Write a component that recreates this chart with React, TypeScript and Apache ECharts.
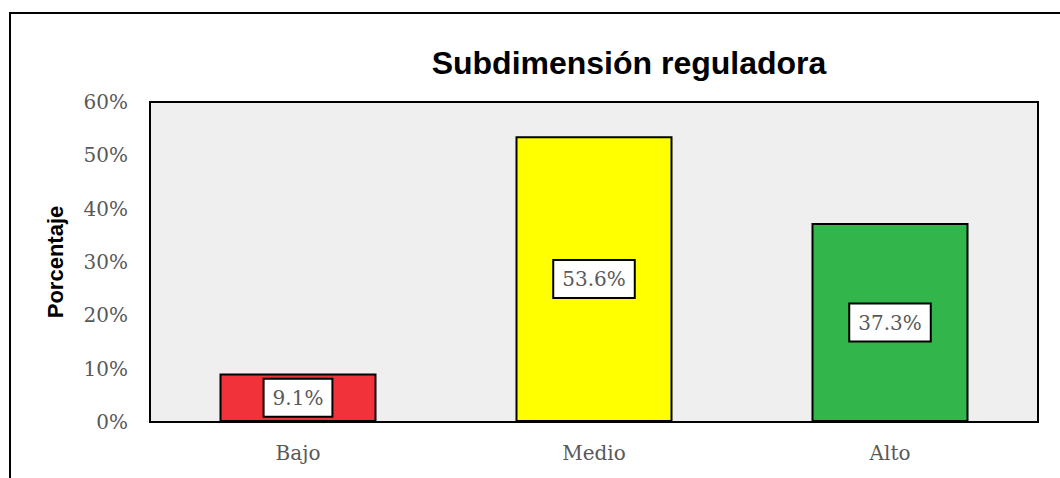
import React, { useEffect, useRef } from "react";
import * as echarts from "echarts";

const categories = ["Bajo", "Medio", "Alto"];
const values = [9.1, 53.6, 37.3];
const barColors = ["#F2323A", "#FFFF00", "#32B64B"];
const yTicks = [0, 10, 20, 30, 40, 50, 60];
const titleText = "Subdimensión reguladora";
const yAxisTitle = "Porcentaje";

export default function App() {
  const ref = useRef<HTMLDivElement>(null);
  useEffect(() => {
    document.body.style.margin = "0";
    const chart = echarts.init(ref.current!, null, { renderer: "svg" });
    const serif = "DejaVu Serif";
    chart.setOption({
      animation: false,
      backgroundColor: "#ffffff",
      title: {
        text: titleText,
        left: 624,
        top: 42,
        textAlign: "center",
        textStyle: { fontFamily: "Liberation Sans", fontWeight: "bold", fontSize: 32, color: "#000" },
      },
      graphic: [
        {
          type: "rect",
          shape: { x: 10, y: 13, width: 1100, height: 600 },
          style: { fill: "none", stroke: "#000", lineWidth: 2 },
          silent: true,
        },
      ],
      grid: {
        left: 150,
        top: 102,
        width: 888,
        height: 320,
        show: true,
        backgroundColor: "#EFEFEF",
        borderColor: "#000",
        borderWidth: 2,
        containLabel: false,
      },
      xAxis: {
        type: "category",
        data: categories,
        axisLine: { lineStyle: { color: "#000", width: 2 } },
        axisTick: { show: false },
        axisLabel: { fontFamily: serif, fontSize: 20, color: "#595959", margin: 21 },
      },
      yAxis: {
        type: "value",
        min: yTicks[0],
        max: yTicks[yTicks.length - 1],
        interval: 10,
        name: yAxisTitle,
        nameLocation: "middle",
        nameGap: 84,
        nameTextStyle: { fontFamily: "Liberation Sans", fontWeight: "bold", fontSize: 22, color: "#000" },
        axisLine: { show: true, lineStyle: { color: "#000", width: 2 } },
        axisTick: { show: false },
        splitLine: { show: false },
        axisLabel: {
          fontFamily: serif,
          fontSize: 20,
          color: "#595959",
          margin: 22,
          formatter: (v: number) => v + "%",
        },
      },
      series: [
        {
          type: "bar",
          barWidth: 157,
          data: values.map((v, i) => ({
            value: v,
            itemStyle: { color: barColors[i], borderColor: "#000", borderWidth: 2 },
          })),
          label: {
            show: true,
            position: "inside",
            formatter: (p: any) => p.value.toFixed(1) + "%",
            fontFamily: serif,
            fontSize: 20,
            color: "#595959",
            backgroundColor: "#ffffff",
            borderColor: "#000",
            borderWidth: 2,
            padding: [9, 8, 7, 8],
          },
        },
      ],
    });
    return () => chart.dispose();
  }, []);
  return <div ref={ref} style={{ width: 1060, height: 478 }} />;
}
